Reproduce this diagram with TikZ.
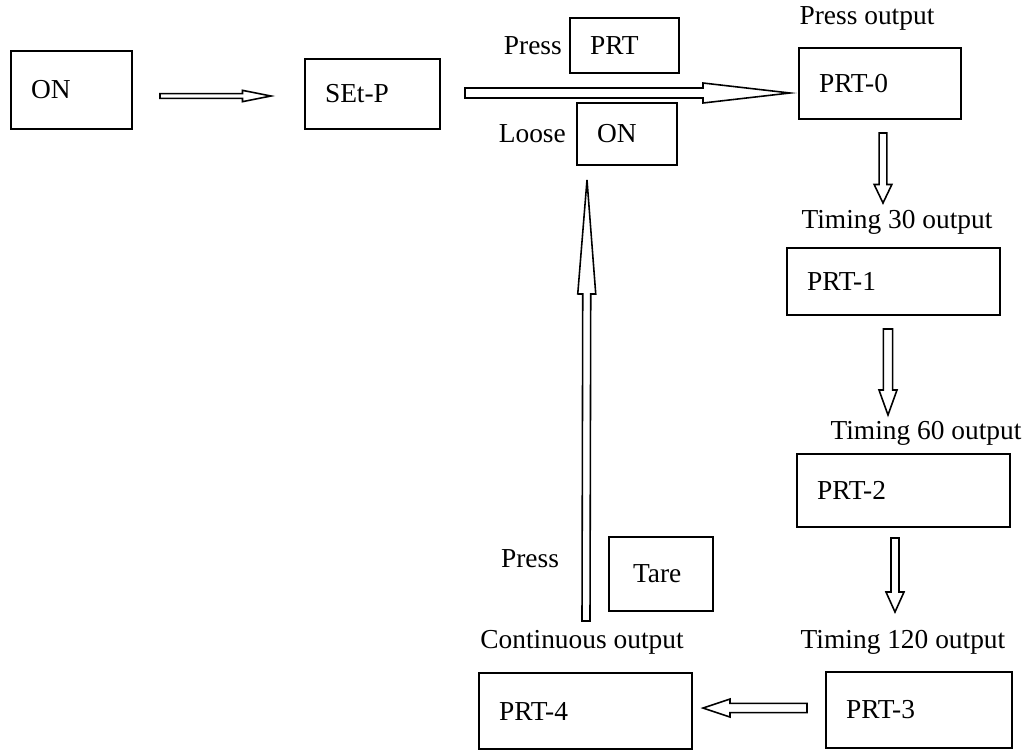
\documentclass[tikz,border=0pt]{standalone}
\usepackage{fontspec}
\setmainfont{Liberation Serif}
\usepackage{tikz}
\usetikzlibrary{calc,positioning}

% hollow block arrow: tail, tip, shaft half width, head half width, head length
\newcommand{\hollowarrow}[5]{%
  \coordinate (hb) at ($(#2)!#5!(#1)$);
  \draw[arrowline] ($(#1)!#3!90:(#2)$) -- ($(hb)!#3!90:(#2)$) -- ($(hb)!#4!90:(#2)$)
    -- (#2) -- ($(hb)!#4!-90:(#2)$) -- ($(hb)!#3!-90:(#2)$) -- ($(#1)!#3!-90:(#2)$) -- cycle;
}

\begin{document}
\begin{tikzpicture}
  [
  x=0.02cm, y=-0.02cm,
  every node/.style = {font=\fontsize{15.6}{18}\selectfont},
  panel/.style = {draw, line width=1pt, inner xsep=0.4cm, inner ysep=0pt, align=left},
  caption/.style = {inner sep=0pt},
  arrowline/.style = {draw, line width=0.9pt, line join=miter}
  ]
  \useasboundingbox (0,0) rectangle (1032,751);

  % boxes
  \node[panel, text width=1.62cm, minimum height=1.56cm] (on)    at (71.5,90)    {ON};
  \node[panel, text width=1.9cm,  minimum height=1.4cm]  (setp)  at (372.5,94)   {SEt-P};
  \node[panel, text width=1.38cm, minimum height=1.1cm]  (prt)   at (624.5,45.5) {PRT};
  \node[panel, text width=1.2cm,  minimum height=1.24cm] (loose) at (627,134)    {ON};
  \node[panel, text width=2.44cm, minimum height=1.42cm] (prt0)  at (880,83.5)   {PRT-0};
  \node[panel, text width=3.46cm, minimum height=1.34cm] (prt1)  at (893.5,281.5){PRT-1};
  \node[panel, text width=3.46cm, minimum height=1.46cm] (prt2)  at (903.5,490.5){PRT-2};
  \node[panel, text width=2.92cm, minimum height=1.52cm] (prt3)  at (919,710)    {PRT-3};
  \node[panel, text width=3.46cm, minimum height=1.52cm] (prt4)  at (585.5,711)  {PRT-4};
  \node[panel, inner xsep=0.48cm, text width=1.12cm, minimum height=1.48cm] (tare) at (661,574) {Tare};

  % texts
  \node[caption] (pressout) at (867,18)  {Press output};
  \node[caption] (t30)      at (897,222) {Timing 30 output};
  \node[caption] (t60)      at (926,433) {Timing 60 output};
  \node[caption] (t120)     at (903,642) {Timing 120 output};
  \node[caption] (contout)  at (582,642) {Continuous output};
  \node[caption, left=0.14cm of prt]   (press1) {Press};
  \node[caption, left=0.2cm of loose]  (loosetx) {Loose};
  \node[caption] (press2)   at (530,559) {Press};

  % arrow ends
  \coordinate (a1s) at (160,96);  \coordinate (a1t) at (271,96);
  \coordinate (a2s) at (465,93);  \coordinate (a2t) at (790,93);
  \coordinate (a3s) at (883,133); \coordinate (a3t) at (883,203);
  \coordinate (a4s) at (888,329); \coordinate (a4t) at (888,415);
  \coordinate (a5s) at (895,538); \coordinate (a5t) at (895,612);
  \coordinate (a6s) at (807,708); \coordinate (a6t) at (703,708);
  \coordinate (a7s) at (586,621); \coordinate (a7t) at (587,180);

  \hollowarrow{a1s}{a1t}{0.047cm}{0.113cm}{0.57cm}
  \hollowarrow{a2s}{a2t}{0.1cm}{0.2cm}{1.74cm}
  \hollowarrow{a3s}{a3t}{0.077cm}{0.177cm}{0.37cm}
  \hollowarrow{a4s}{a4t}{0.093cm}{0.18cm}{0.5cm}
  \hollowarrow{a5s}{a5t}{0.08cm}{0.18cm}{0.4cm}
  \hollowarrow{a6s}{a6t}{0.093cm}{0.18cm}{0.54cm}
  \hollowarrow{a7s}{a7t}{0.08cm}{0.18cm}{2.28cm}
\end{tikzpicture}
\end{document}
